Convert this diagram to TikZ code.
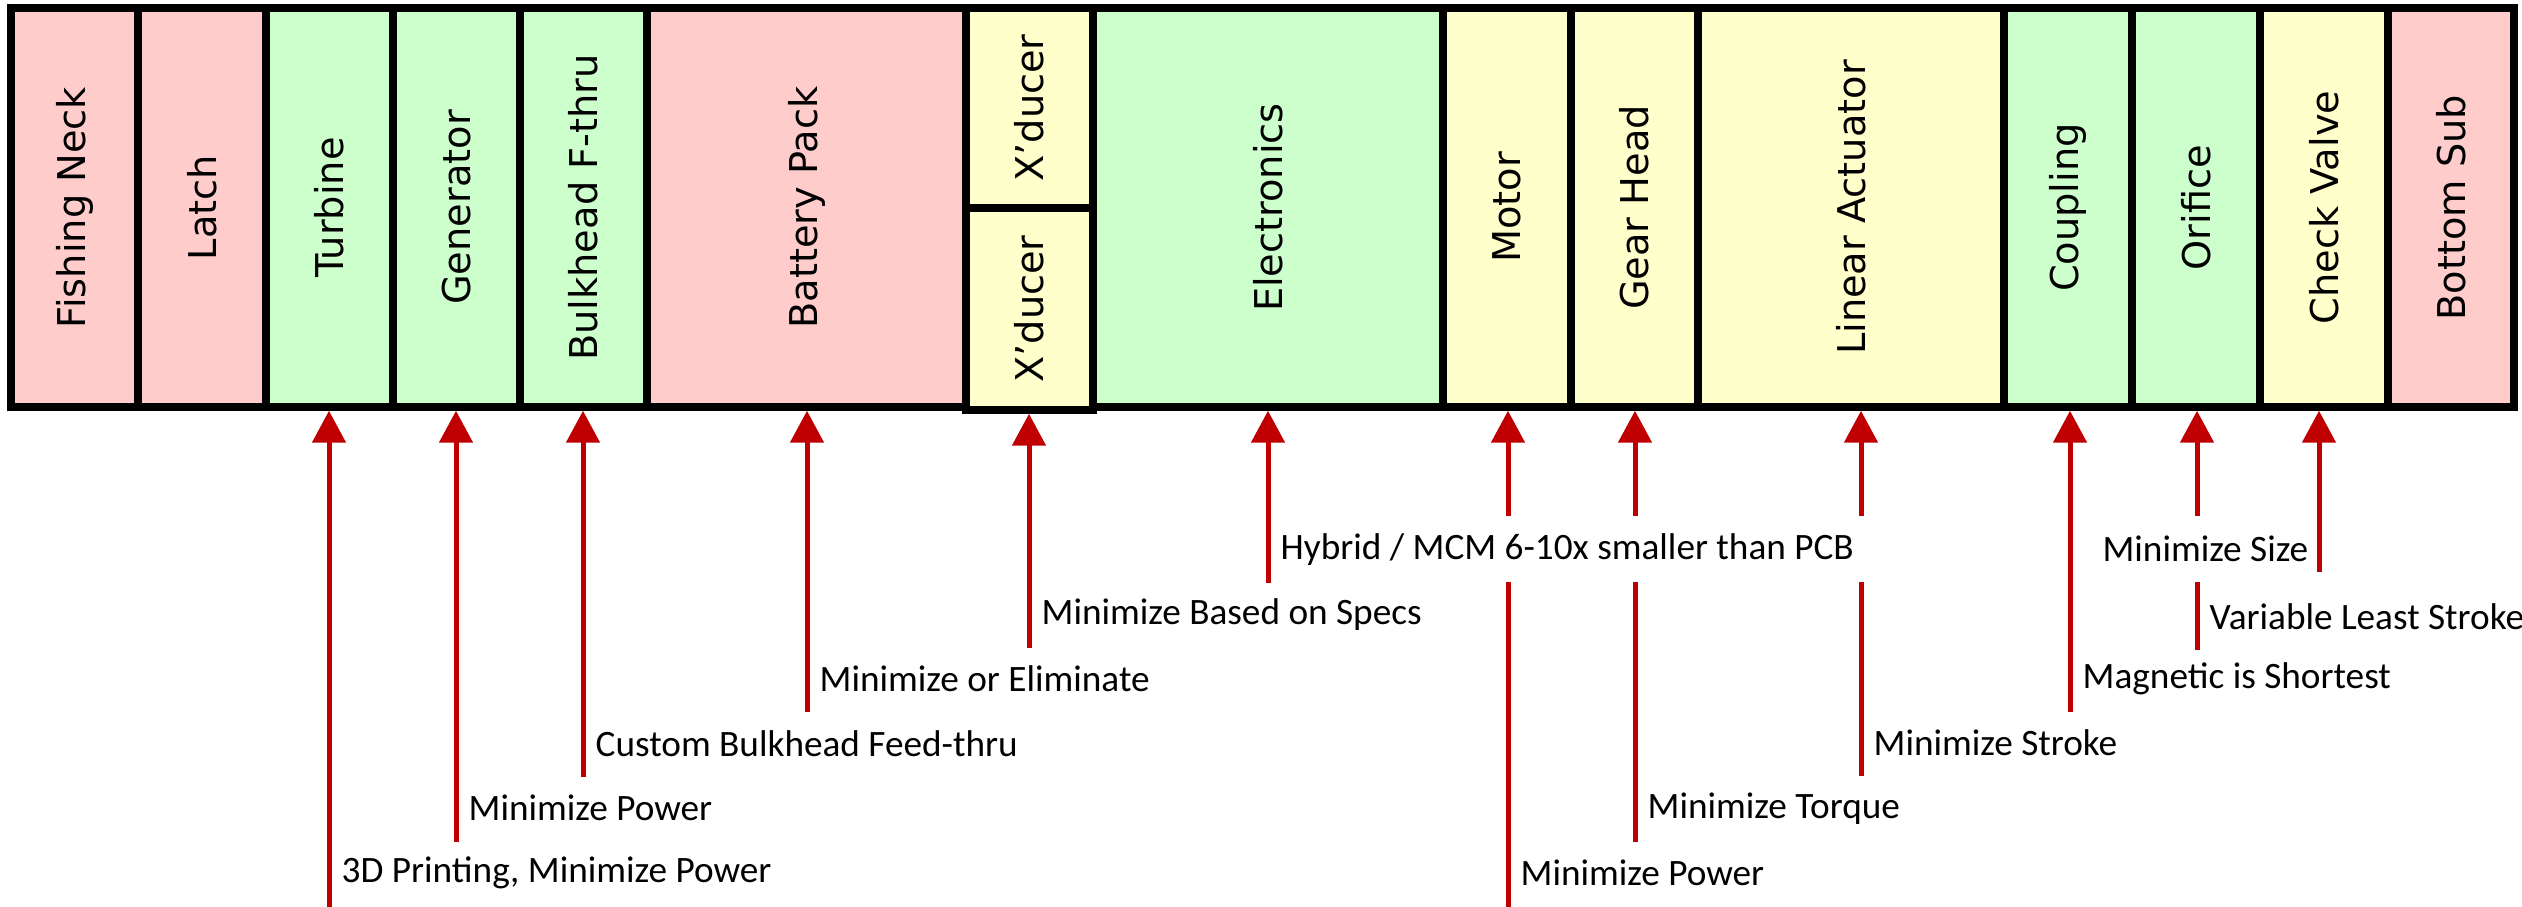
\documentclass[tikz,border=0pt]{standalone}
\usepackage{fontspec}
\usetikzlibrary{arrows.meta, backgrounds}
\newfontfamily\partfont{DejaVu Sans}
\newfontfamily\notefont{Carlito}
\definecolor{partred}{HTML}{FFCCCC}
\definecolor{partgreen}{HTML}{CCFFCC}
\definecolor{partyellow}{HTML}{FFFFCC}
\definecolor{callout}{HTML}{C00000}

\begin{document}
\begin{tikzpicture}[
    >={Triangle[width=0.33cm, length=0.32cm]},
    part/.style={rectangle, draw=black, fill=#1, line width=0.075cm, minimum height=3.99cm, inner sep=0pt, font=\partfont\fontsize{10.9}{12}\selectfont},
    note/.style={anchor=south west, minimum height=0.66cm, inner xsep=0.12cm, inner ysep=0pt, font=\notefont\fontsize{10.6}{12}\selectfont},
    lead/.style={->, line width=0.05cm, callout},
  ]
  \useasboundingbox (0,0) rectangle (25.22,-9.07);

  % Tool string
  \node[part=partred, minimum width=1.27cm] (neck) at (0.745,-2.075) {\rotatebox{90}{Fishing Neck}};
  \node[part=partred, minimum width=1.28cm] (latch) at (2.02,-2.075) {\rotatebox{90}{Latch}};
  \node[part=partgreen, minimum width=1.27cm] (turbine) at (3.295,-2.075) {\rotatebox{90}{Turbine}};
  \node[part=partgreen, minimum width=1.27cm] (generator) at (4.565,-2.075) {\rotatebox{90}{Generator}};
  \node[part=partgreen, minimum width=1.27cm] (bulkhead) at (5.835,-2.075) {\rotatebox{90}{Bulkhead F-thru}};
  \node[part=partred, minimum width=3.19cm] (battery) at (8.065,-2.075) {\rotatebox{90}{Battery Pack}};
  \node[part=partyellow, minimum width=1.27cm, minimum height=2.0cm] (xd1) at (10.295,-1.08) {\rotatebox{90}{X’ducer}};
  \node[part=partyellow, minimum width=1.27cm, minimum height=2.02cm] (xd2) at (10.295,-3.09) {\rotatebox{90}{X’ducer}};
  \node[part=partgreen, minimum width=3.50cm] (electronics) at (12.68,-2.075) {\rotatebox{90}{Electronics}};
  \node[part=partyellow, minimum width=1.28cm] (motor) at (15.07,-2.075) {\rotatebox{90}{Motor}};
  \node[part=partyellow, minimum width=1.27cm] (gear) at (16.345,-2.075) {\rotatebox{90}{Gear Head}};
  \node[part=partyellow, minimum width=3.06cm] (linear) at (18.51,-2.075) {\rotatebox{90}{Linear Actuator}};
  \node[part=partgreen, minimum width=1.28cm] (coupling) at (20.68,-2.075) {\rotatebox{90}{Coupling}};
  \node[part=partgreen, minimum width=1.28cm] (orifice) at (21.96,-2.075) {\rotatebox{90}{Orifice}};
  \node[part=partyellow, minimum width=1.28cm] (check) at (23.24,-2.075) {\rotatebox{90}{Check Valve}};
  \node[part=partred, minimum width=1.26cm] (bottom) at (24.51,-2.075) {\rotatebox{90}{Bottom Sub}};

  % Notes
  \node[note] (n1) at (3.29,-9.07) {3D Printing, Minimize Power};
  \node[note] (n2) at (4.56,-8.42) {Minimize Power};
  \node[note] (n3) at (5.83,-7.77) {Custom Bulkhead Feed-thru};
  \node[note] (n4) at (8.07,-7.12) {Minimize or Eliminate};
  \node[note] (n5) at (10.29,-6.48) {Minimize Based on Specs};
  \node[note, fill=white] (n6) at (12.68,-5.83) {Hybrid / MCM 6-10x smaller than PCB};
  \node[note] (n7) at (15.08,-9.07) {Minimize Power};
  \node[note] (n8) at (16.35,-8.42) {Minimize Torque};
  \node[note] (n9) at (18.61,-7.76) {Minimize Stroke};
  \node[note] (n10) at (20.70,-7.12) {Magnetic is Shortest};
  \node[note] (n11) at (21.97,-6.50) {Variable Least Stroke};
  \node[note, anchor=south east, inner xsep=0.1cm, fill=white] (n12) at (23.19,-5.83) {Minimize Size};

  % Leaders
  \begin{scope}[on background layer]
    \foreach \n/\p in {n7/motor, n8/gear, n9/linear, n11/orifice}
      \draw[lead] (\n.south west) -- (\n.south west |- \p.south);
  \end{scope}
  \foreach \n/\p in {n1/turbine, n2/generator, n3/bulkhead, n4/battery, n5/xd2, n6/electronics, n10/coupling}
    \draw[lead] (\n.south west) -- (\n.south west |- \p.south);
  \draw[lead] ([yshift=0.11cm]n12.south east) -- (n12.south east |- check.south);

\end{tikzpicture}
\end{document}
